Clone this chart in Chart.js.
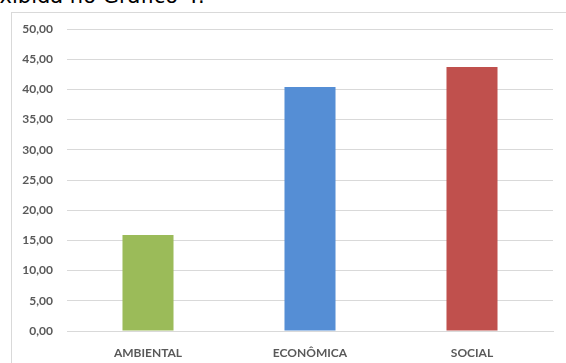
<!DOCTYPE html>
<html>
<head>
<meta charset="utf-8">
<script src="https://cdn.jsdelivr.net/npm/chart.js@4"></script>
<style>
  html, body { margin: 0; padding: 0; background: #fff; overflow: hidden; }
  body { width: 566px; height: 363px; position: relative; }
  #intro {
    position: absolute; left: -13px; top: -14px; line-height: 21px;
    font-family: "DejaVu Sans", Verdana, sans-serif; font-size: 21px; color: #000;
    white-space: nowrap;
  }
  #box {
    position: absolute; left: 11px; top: 12px; width: 570px; height: 360px;
    border: 1px solid #d9d9d9; box-sizing: border-box;
  }
  #chart { position: absolute; left: 11px; top: 12px; }
</style>
</head>
<body>
<div id="intro">exibida no Gráfico 4.</div>
<div id="box"></div>
<canvas id="chart" width="560" height="351"></canvas>
<script>
// Dimensões e valores por categoria
const categories = ["AMBIENTAL", "ECONÔMICA", "SOCIAL"];
const values = [15.9, 40.4, 43.7];
const barColors = ["#9bbb59", "#558ed5", "#c0504d"];
const yTicks = [0, 5, 10, 15, 20, 25, 30, 35, 40, 45, 50];

const labelFont = { family: "Lato, 'Open Sans', sans-serif", size: 12, weight: "bold" };

const ctx = document.getElementById("chart").getContext("2d");
new Chart(ctx, {
    type: "bar",
    data: {
        labels: categories,
        datasets: [
            {
                data: values,
                backgroundColor: barColors,
                borderWidth: 0,
                categoryPercentage: 1,
                barPercentage: 0.315,
            },
        ],
    },
    options: {
        responsive: false,
        animation: false,
        layout: { padding: { top: 17, right: 18, bottom: 0, left: 0 } },
        plugins: { legend: { display: false }, tooltip: { enabled: false } },
        scales: {
            x: {
                grid: { display: false },
                border: { color: "#d9d9d9" },
                ticks: { color: "#595959", font: labelFont, padding: 7 },
                afterFit: (scale) => { scale.height = 32; },
            },
            y: {
                min: 0,
                max: 50,
                afterBuildTicks: (scale) => { scale.ticks = yTicks.map((v) => ({ value: v })); },
                grid: { color: "#d9d9d9", drawTicks: false },
                border: { display: false },
                ticks: {
                    color: "#595959",
                    font: labelFont,
                    padding: 14,
                    callback: (v) => v.toFixed(2).replace(".", ","),
                },
                // fixed axis width, and no extra room above/below for the labels
                afterFit: (scale) => {
                    scale.width = 56;
                    scale.paddingTop = 0;
                    scale.paddingBottom = 0;
                },
            },
        },
    },
});
</script>
</body>
</html>
